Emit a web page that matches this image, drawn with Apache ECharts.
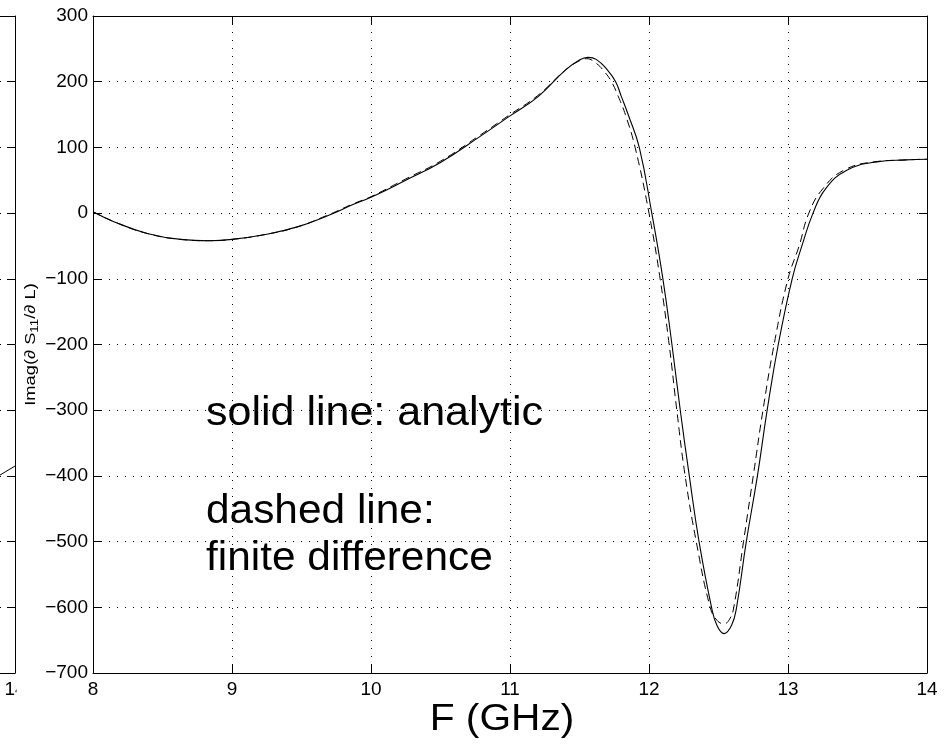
<!DOCTYPE html>
<html><head><meta charset="utf-8">
<script src="https://cdn.jsdelivr.net/npm/echarts@6/dist/echarts.min.js"></script>
<style>html,body{margin:0;padding:0;background:#fff}#c{width:950px;height:744px}</style>
</head><body><div id="c"></div>
<script>
// ---- data ----
const freqAnalytic = [8.00,8.15,8.39,8.63,8.84,9.00,9.23,9.47,9.70,9.87,10.00,10.25,10.50,10.78,11.00,11.20,11.40,11.50,11.56,11.62,11.70,11.76,11.80,11.85,11.93,12.02,12.10,12.165,12.225,12.29,12.36,12.45,12.49,12.54,12.595,12.63,12.70,12.78,12.85,12.93,13.03,13.10,13.18,13.27,13.42,13.64,13.85,14.00];
const imagAnalytic = [2,-13,-31,-40,-42,-40,-33,-21,-3,13,24,50,77,116,148,177,218,233,237,234,218,200,178,150,100,0,-100,-200,-300,-400,-500,-600,-628,-640,-627,-600,-500,-400,-300,-200,-100,-50,0,37,65,78,81,82];
const freqFinite = [8.00,8.15,8.39,8.63,8.84,9.00,9.23,9.47,9.70,9.87,10.00,10.25,10.50,10.78,11.00,11.20,11.40,11.50,11.55,11.62,11.68,11.73,11.78,11.83,11.90,12.00,12.08,12.145,12.20,12.26,12.34,12.44,12.49,12.54,12.58,12.61,12.68,12.75,12.82,12.90,13.00,13.08,13.15,13.25,13.40,13.62,13.85,14.00];
const imagFinite = [2,-13,-31,-40,-42,-40,-33,-21,-2,14,25,52,79,118,150,179,218,232,235,228,215,200,177,150,100,0,-100,-200,-300,-400,-500,-600,-620,-625,-618,-600,-500,-400,-300,-200,-100,-50,0,37,65,78,81,82];
// neighbouring (cropped) panel on the left: only its last sliver is visible
const freqLeftPanel = [13.85, 14.0];
const valLeftPanel = [-404, -385];
// axes
const xMin = 8, xMax = 14, xStep = 1;
const yMin = -700, yMax = 300, yStep = 100;
const leftPanelXMin = 13.892;
const leftPanelLabels = [14];
const xTitle = 'F (GHz)';
const notes = ['solid line: analytic', 'dashed line:', 'finite difference'];

const FONT = '"Liberation Sans", Arial, Helvetica, sans-serif';
const zip = (a, b) => a.map((v, i) => [v, b[i]]);
const minus = v => String(v).replace('-', '\u2212');
const axLine = { show: true, onZero: false, lineStyle: { color: '#000', width: 1 } };
const tick = { show: true, inside: true, length: 8, lineStyle: { color: '#000' } };
const dots = { show: true, lineStyle: { color: '#000', width: 1, type: [1, 7] } };
const lbl = { color: '#000', fontSize: 19, fontFamily: FONT, formatter: minus };

function xAx(pos, main) {
  return {
    type: 'value', gridIndex: 0, position: pos, min: xMin, max: xMax, interval: xStep,
    axisLine: axLine, axisTick: tick,
    axisLabel: Object.assign({ show: main, margin: 7 }, lbl),
    splitLine: Object.assign({}, dots, { show: main })
  };
}
function yAx(pos, main) {
  return {
    type: 'value', gridIndex: 0, position: pos, min: yMin, max: yMax, interval: yStep,
    axisLine: axLine, axisTick: tick,
    axisLabel: Object.assign({ show: main, margin: 5 }, lbl),
    splitLine: Object.assign({}, dots, { show: main })
  };
}

const chart = echarts.init(document.getElementById('c'), null, { renderer: 'canvas' });
chart.setOption({
  animation: false,
  backgroundColor: '#fff',
  grid: [
    { left: 93, top: 16, width: 834, height: 657 },
    { left: 0, top: 16, width: 15, height: 657 }
  ],
  xAxis: [
    xAx('bottom', true), xAx('top', false),
    { type: 'value', gridIndex: 1, position: 'bottom', min: leftPanelXMin, max: xMax,
      axisLine: axLine, axisTick: { show: false },
      axisLabel: Object.assign({ show: true, margin: 7, customValues: leftPanelLabels, showMinLabel: false }, lbl),
      splitLine: { show: false } },
    { type: 'value', gridIndex: 1, position: 'top', min: leftPanelXMin, max: xMax,
      axisLine: axLine, axisTick: { show: false }, axisLabel: { show: false }, splitLine: { show: false } }
  ],
  yAxis: [
    yAx('left', true), yAx('right', false),
    { type: 'value', gridIndex: 1, position: 'left', min: yMin, max: yMax, interval: yStep,
      axisLine: { show: false }, axisTick: { show: false }, axisLabel: { show: false }, splitLine: dots },
    { type: 'value', gridIndex: 1, position: 'right', min: yMin, max: yMax, interval: yStep,
      axisLine: axLine, axisTick: tick, axisLabel: { show: false }, splitLine: { show: false } }
  ],
  series: [
    { type: 'line', xAxisIndex: 0, yAxisIndex: 0, data: zip(freqFinite, imagFinite), showSymbol: false, symbol: 'none', smooth: 0.45,
      lineStyle: { color: '#000', width: 1, type: [8, 5] }, z: 3 },
    { type: 'line', xAxisIndex: 0, yAxisIndex: 0, data: zip(freqAnalytic, imagAnalytic), showSymbol: false, symbol: 'none', smooth: 0.45,
      lineStyle: { color: '#000', width: 1.1 }, z: 4 },
    { type: 'line', xAxisIndex: 2, yAxisIndex: 2, data: zip(freqLeftPanel, valLeftPanel), showSymbol: false, symbol: 'none',
      lineStyle: { color: '#000', width: 1 } }
  ],
  graphic: [
    { type: 'rect', left: 16.5, top: 678, z: 100, shape: { width: 24, height: 28 }, style: { fill: '#fff' } },
    { type: 'text', x: 31, y: 344.5, rotation: Math.PI / 2, scaleX: 1.22, z: 50,
      style: { text: '{a|Imag(\u2202 S}{b|11}{a|/\u2202 L)}',
        rich: { a: { fontSize: 15, fontFamily: FONT, fill: '#000', lineHeight: 19 },
                b: { fontSize: 11, fontFamily: FONT, fill: '#000', lineHeight: 14, verticalAlign: 'bottom' } },
        align: 'center', verticalAlign: 'middle', textAlign: 'center', textVerticalAlign: 'middle' } },
    { type: 'text', x: 206, y: 414, z: 50, scaleX: 1.075, style: { text: notes[0], fontSize: 40, fontFamily: FONT, fill: '#000', align: 'left', verticalAlign: 'middle', textAlign: 'left', textVerticalAlign: 'middle' } },
    { type: 'text', x: 206, y: 512, z: 50, scaleX: 1.06, style: { text: notes[1], fontSize: 40, fontFamily: FONT, fill: '#000', align: 'left', verticalAlign: 'middle', textAlign: 'left', textVerticalAlign: 'middle' } },
    { type: 'text', x: 206, y: 559, z: 50, scaleX: 1.06, style: { text: notes[2], fontSize: 40, fontFamily: FONT, fill: '#000', align: 'left', verticalAlign: 'middle', textAlign: 'left', textVerticalAlign: 'middle' } },
    { type: 'text', x: 502, y: 720, z: 50, scaleX: 1.1, style: { text: xTitle, fontSize: 37, fontFamily: FONT, fill: '#000', align: 'center', verticalAlign: 'middle', textAlign: 'center', textVerticalAlign: 'middle' } }
  ]
});
</script></body></html>
